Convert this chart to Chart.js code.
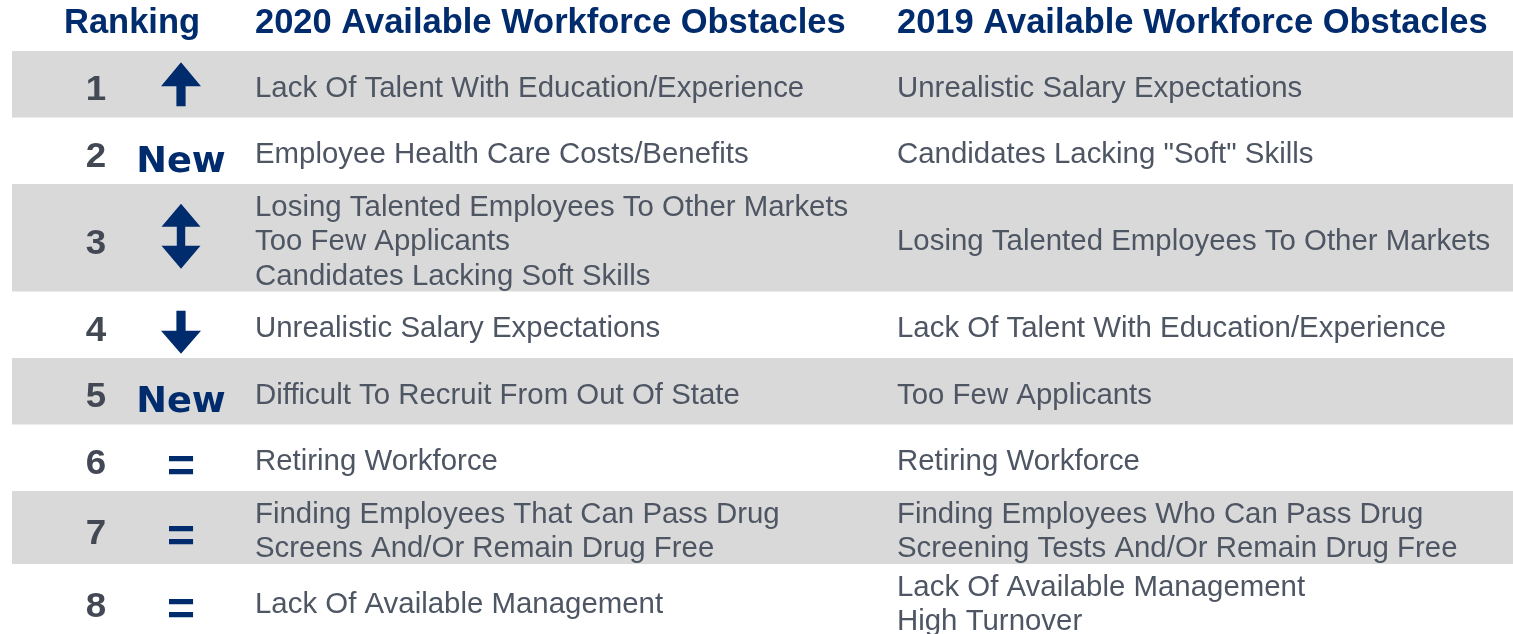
<!DOCTYPE html>
<html>
<head>
<meta charset="utf-8">
<script src="https://cdn.jsdelivr.net/npm/chart.js@4.4.1/dist/chart.umd.min.js"></script>
<style>
html,body{margin:0;padding:0;background:#ffffff;overflow:hidden;}
#wrap{width:1513px;height:634px;position:relative;}
</style>
</head>
<body>
<div id="wrap"><canvas id="c"></canvas></div>
<script>
// ---- data ----
const headers = ['Ranking', '2020 Available Workforce Obstacles', '2019 Available Workforce Obstacles'];
const ranks = ['1', '2', '3', '4', '5', '6', '7', '8'];
const changes = ['up', 'New', 'updown', 'down', 'New', '=', '=', '='];
const obstacles2020 = [
  ['Lack Of Talent With Education/Experience'],
  ['Employee Health Care Costs/Benefits'],
  ['Losing Talented Employees To Other Markets', 'Too Few Applicants', 'Candidates Lacking Soft Skills'],
  ['Unrealistic Salary Expectations'],
  ['Difficult To Recruit From Out Of State'],
  ['Retiring Workforce'],
  ['Finding Employees That Can Pass Drug', 'Screens And/Or Remain Drug Free'],
  ['Lack Of Available Management']
];
const obstacles2019 = [
  ['Unrealistic Salary Expectations'],
  ['Candidates Lacking "Soft" Skills'],
  ['Losing Talented Employees To Other Markets'],
  ['Lack Of Talent With Education/Experience'],
  ['Too Few Applicants'],
  ['Retiring Workforce'],
  ['Finding Employees Who Can Pass Drug', 'Screening Tests And/Or Remain Drug Free'],
  ['Lack Of Available Management', 'High Turnover']
];

// ---- layout (styles / sizes) ----
const NAVY = '#002b6c';
const TEXT = '#4e5563';
const RANKC = '#434954';
const BAND = '#d9d9d9';
const LINE_H = 34.5;
const MIN_ROW = 66.5;
const HEADER_H = 51;

// row extents derived from the number of text lines in each row
const rowStarts = [];
const rowEnds = [];
(function () {
  let acc = 0;
  obstacles2020.forEach((lines, i) => {
    const n = Math.max(lines.length, obstacles2019[i].length);
    const h = Math.max(MIN_ROW, n * LINE_H + 4);
    rowStarts.push(acc);
    rowEnds.push(acc + h);
    acc += h;
  });
})();

const bandData = [];
ranks.forEach((r, i) => {
  if (i % 2 === 0) bandData.push({ x: 'rows', y: [rowStarts[i], rowEnds[i]] });
});

function drawText(ctx, s, x, yb, font, color, align, sx) {
  ctx.save();
  ctx.font = font;
  ctx.fillStyle = color;
  ctx.textAlign = align;
  ctx.textBaseline = 'alphabetic';
  ctx.translate(x, yb);
  ctx.scale(sx || 1, 1);
  ctx.fillText(s, 0, 0);
  ctx.restore();
}

function drawArrow(ctx, kind, cx, cy) {
  ctx.save();
  ctx.fillStyle = NAVY;
  ctx.beginPath();
  if (kind === 'up') {
    const t = cy - 22, hw = 20, sw = 4.6;
    ctx.moveTo(cx, t);
    ctx.lineTo(cx + hw, t + 24);
    ctx.lineTo(cx + sw, t + 24);
    ctx.lineTo(cx + sw, t + 44);
    ctx.lineTo(cx - sw, t + 44);
    ctx.lineTo(cx - sw, t + 24);
    ctx.lineTo(cx - hw, t + 24);
    ctx.closePath();
  } else if (kind === 'down') {
    const t = cy - 14, hw = 20, sw = 4.6;
    ctx.moveTo(cx - sw, t);
    ctx.lineTo(cx + sw, t);
    ctx.lineTo(cx + sw, t + 20);
    ctx.lineTo(cx + hw, t + 20);
    ctx.lineTo(cx, t + 43);
    ctx.lineTo(cx - hw, t + 20);
    ctx.lineTo(cx - sw, t + 20);
    ctx.closePath();
  } else if (kind === 'updown') {
    const t = cy - 34, hw = 19.5, sw = 4.2;
    ctx.moveTo(cx, t);
    ctx.lineTo(cx + hw, t + 23);
    ctx.lineTo(cx + sw, t + 23);
    ctx.lineTo(cx + sw, t + 42);
    ctx.lineTo(cx + hw, t + 42);
    ctx.lineTo(cx, t + 65);
    ctx.lineTo(cx - hw, t + 42);
    ctx.lineTo(cx - sw, t + 42);
    ctx.lineTo(cx - sw, t + 23);
    ctx.lineTo(cx - hw, t + 23);
    ctx.closePath();
  }
  ctx.fill();
  ctx.restore();
}

const tablePlugin = {
  id: 'tableText',
  afterDatasetsDraw(chart) {
    const ctx = chart.ctx;
    const ys = chart.scales.y;
    const L = chart.chartArea.left;
    const top = chart.chartArea.top;
    const xRank = L + 84, xChg = L + 169, x20 = L + 243, x19 = L + 885, xHead = L + 52;

    // headers
    const hf = 'bold 34.5px "Liberation Sans"';
    drawText(ctx, headers[0], xHead, top - 18, hf, NAVY, 'left');
    drawText(ctx, headers[1], x20, top - 18, hf, NAVY, 'left');
    drawText(ctx, headers[2], x19, top - 18, hf, NAVY, 'left');

    ranks.forEach((r, i) => {
      const cy = ys.getPixelForValue((rowStarts[i] + rowEnds[i]) / 2);
      drawText(ctx, r, xRank, cy + 16, 'bold 35px "Liberation Sans"', RANKC, 'center', 1.05);

      const c = changes[i];
      if (c === 'New') {
        drawText(ctx, 'New', xChg, cy + 21, 'bold 36px "DejaVu Sans"', NAVY, 'center', 1.02);
      } else if (c === '=') {
        drawText(ctx, '=', xChg, cy + 24, 'bold 48px "Liberation Sans"', NAVY, 'center');
      } else {
        drawArrow(ctx, c, xChg, cy);
      }

      const bf = '29px "Liberation Sans"';
      [[obstacles2020[i], x20], [obstacles2019[i], x19]].forEach(([lines, x]) => {
        const n = lines.length;
        lines.forEach((s, k) => {
          const yb = cy + 12.6 + (k - (n - 1) / 2) * LINE_H;
          drawText(ctx, s, x, yb, bf, TEXT, 'left', 1.014);
        });
      });
    });
  }
};

const totalUnits = 634 - HEADER_H;

new Chart(document.getElementById('c'), {
  type: 'bar',
  data: {
    labels: ['rows'],
    datasets: [{
      label: 'bands',
      data: bandData,
      backgroundColor: BAND,
      borderWidth: 0,
      categoryPercentage: 1,
      barPercentage: 1,
      inflateAmount: 0
    }]
  },
  options: {
    responsive: true,
    maintainAspectRatio: false,
    animation: false,
    events: [],
    layout: { padding: { top: HEADER_H, left: 12, right: 0, bottom: 0 } },
    plugins: { legend: { display: false }, tooltip: { enabled: false } },
    scales: {
      x: { type: 'category', display: false, offset: true },
      y: { type: 'linear', display: false, reverse: true, min: 0, max: totalUnits }
    }
  },
  plugins: [tablePlugin]
});
</script>
</body>
</html>
